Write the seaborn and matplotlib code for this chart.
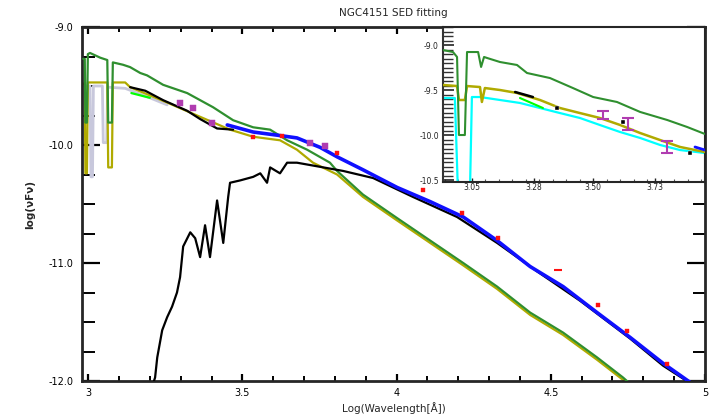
import matplotlib
matplotlib.use("Agg")
import matplotlib.pyplot as plt
import seaborn as sns
from matplotlib.ticker import MultipleLocator, FormatStrFormatter

# ---------------- main panel data (log wavelength, log flux) ----------------
green_x = [2.984, 2.989, 2.991, 2.996, 2.999, 3.006, 3.039, 3.062, 3.065, 3.077, 3.080,
           3.113, 3.136, 3.169, 3.191, 3.243, 3.321, 3.405, 3.470, 3.535, 3.590, 3.645,
           3.710, 3.784, 3.807, 3.891, 4.002, 4.109, 4.216, 4.326, 4.433, 4.540, 4.650,
           4.734, 4.760]
green_y = [-9.27, -9.27, -9.81, -9.81, -9.23, -9.22, -9.26, -9.28, -9.81, -9.81, -9.30,
           -9.32, -9.34, -9.39, -9.41, -9.49, -9.56, -9.68, -9.79, -9.85, -9.87, -9.96,
           -10.04, -10.15, -10.22, -10.42, -10.62, -10.81, -11.00, -11.20, -11.42, -11.59,
           -11.80, -11.97, -12.03]

olive_x = [2.984, 2.989, 2.991, 2.996, 2.999, 3.016, 3.062, 3.065, 3.077, 3.080, 3.120,
           3.136, 3.256, 3.353, 3.460, 3.535, 3.622, 3.677, 3.729, 3.807, 3.891, 4.002,
           4.109, 4.216, 4.326, 4.433, 4.540, 4.650, 4.734, 4.760]
olive_y = [-9.48, -9.48, -10.24, -10.24, -9.47, -9.47, -9.47, -10.19, -10.19, -9.47, -9.47,
           -9.51, -9.64, -9.75, -9.87, -9.93, -9.96, -10.04, -10.15, -10.25, -10.44, -10.64,
           -10.83, -11.02, -11.22, -11.44, -11.61, -11.82, -11.99, -12.05]

lav_x = [2.984, 3.006, 3.009, 3.014, 3.017, 3.046, 3.049, 3.060, 3.063, 3.120, 3.200, 3.256]
lav_y = [-9.50, -9.50, -10.27, -10.27, -9.50, -9.50, -9.98, -9.98, -9.51, -9.52, -9.60, -9.66]

blue_x = [3.451, 3.535, 3.622, 3.677, 3.752, 3.807, 3.891, 4.002, 4.109, 4.216, 4.326,
          4.433, 4.540, 4.650, 4.757, 4.864, 4.951]
blue_y = [-9.83, -9.89, -9.92, -9.94, -10.02, -10.10, -10.21, -10.36, -10.48, -10.61,
          -10.81, -11.03, -11.20, -11.42, -11.63, -11.85, -12.01]

stellar_x = [3.211, 3.217, 3.224, 3.240, 3.256, 3.272, 3.288, 3.298, 3.308, 3.331, 3.347,
             3.363, 3.379, 3.395, 3.418, 3.438, 3.454, 3.460, 3.493, 3.535, 3.558, 3.580,
             3.590, 3.622, 3.645, 3.677, 3.720, 3.827, 3.924, 4.053, 4.196, 4.326, 4.455,
             4.595, 4.757, 4.864, 4.935]
stellar_y = [-12.02, -11.97, -11.80, -11.57, -11.46, -11.37, -11.25, -11.12, -10.86, -10.74,
             -10.79, -10.95, -10.68, -10.95, -10.47, -10.83, -10.44, -10.32, -10.30, -10.27,
             -10.24, -10.32, -10.19, -10.24, -10.15, -10.15, -10.17, -10.22, -10.28, -10.44,
             -10.61, -10.83, -11.07, -11.32, -11.64, -11.87, -11.99]

uvspec_x = [3.136, 3.185, 3.243, 3.321, 3.363, 3.418, 3.470]
uvspec_y = [-9.51, -9.54, -9.62, -9.71, -9.78, -9.86, -9.87]

bgreen_x = [3.140, 3.170, 3.200]
bgreen_y = [-9.56, -9.58, -9.60]

red_x = [3.535, 3.629, 3.807, 4.086, 4.212, 4.329, 4.653, 4.747, 4.877]
red_y = [-9.93, -9.92, -10.07, -10.38, -10.58, -10.79, -11.36, -11.58, -11.86]
red_lim_x = [4.523]
red_lim_y = [-11.06]

mag_x = [3.298, 3.340, 3.402, 3.720, 3.768]
mag_y = [-9.64, -9.69, -9.81, -9.98, -10.01]

# ---------------- inset data ----------------
in_green_x = [2.944, 2.981, 2.996, 3.003, 3.025, 3.033, 3.074, 3.085, 3.096, 3.107, 3.155,
              3.218, 3.255, 3.340, 3.425, 3.500, 3.588, 3.674, 3.774, 3.848, 3.914]
in_green_y = [-9.056, -9.078, -9.133, -10.00, -10.00, -9.078, -9.078, -9.244, -9.133, -9.144,
              -9.189, -9.222, -9.311, -9.367, -9.478, -9.578, -9.633, -9.744, -9.833, -9.911,
              -9.989]
in_olive_x = [2.944, 2.996, 3.003, 3.025, 3.033, 3.081, 3.088, 3.099, 3.155, 3.218, 3.303,
              3.377, 3.451, 3.525, 3.600, 3.674, 3.748, 3.822, 3.914]
in_olive_y = [-9.444, -9.456, -9.611, -9.611, -9.456, -9.467, -9.633, -9.478, -9.500, -9.533,
              -9.611, -9.700, -9.756, -9.811, -9.889, -9.978, -10.056, -10.133, -10.189]
in_cyan_x = [2.944, 2.988, 2.999, 3.044, 3.051, 3.081, 3.155, 3.229, 3.303, 3.377, 3.451,
             3.525, 3.600, 3.674, 3.748, 3.822, 3.914]
in_cyan_y = [-9.589, -9.589, -10.60, -10.60, -9.578, -9.578, -9.611, -9.644, -9.700, -9.756,
             -9.811, -9.889, -9.967, -10.033, -10.111, -10.167, -10.200]
in_bgreen_x = [3.229, 3.314]
in_bgreen_y = [-9.589, -9.700]
in_black_x = [3.211, 3.277]
in_black_y = [-9.522, -9.578]
in_blackpt_x = [3.366, 3.611, 3.859]
in_blackpt_y = [-9.700, -9.856, -10.200]
in_blue_x = [3.877, 3.914]
in_blue_y = [-10.133, -10.167]
in_mag_x = [3.537, 3.629, 3.774]
in_mag_y = [-9.778, -9.878, -10.133]
in_mag_err = [0.045, 0.067, 0.072]

x_ticks = [3.0, 3.5, 4.0, 4.5, 5.0]
x_labels = ["3", "3.5", "4", "4.5", "5"]
y_ticks = [-12, -11, -10, -9]
in_x_ticks = [3.05, 3.28, 3.5, 3.73]
in_y_ticks = [-10.5, -10.0, -9.5, -9.0]

title = "NGC4151 SED fitting"
xlabel = "Log(Wavelength[Å])"
ylabel = "log(νFν)"

# ---------------- style ----------------
sns.set_theme(style="ticks")
plt.rcParams['font.family'] = ['DejaVu Sans']
plt.rcParams['axes.linewidth'] = 2.0

GREEN = "#2f8f2f"
OLIVE = "#b0aa00"
LAV = "#c8c8dc"
BLUE = "#1010ff"
RED = "#ff1010"
MAG = "#b03cb0"
CYAN = "#00ffff"
BGREEN = "#00ff00"

fig = plt.figure(figsize=(7.11, 4.15), dpi=100)
ax = fig.add_axes([82 / 711, 34 / 415, 623 / 711, 354 / 415])


def line(a, xs, ys, color, lw, z=2):
    sns.lineplot(x=xs, y=ys, sort=False, estimator=None, color=color, lw=lw, ax=a,
                 zorder=z, legend=False)


line(ax, lav_x, lav_y, LAV, 2.0, 1)
line(ax, olive_x, olive_y, OLIVE, 1.6, 2)
line(ax, green_x, green_y, GREEN, 1.6, 3)
line(ax, stellar_x, stellar_y, "black", 1.6, 4)
line(ax, uvspec_x, uvspec_y, "black", 1.6, 4)
line(ax, bgreen_x, bgreen_y, BGREEN, 1.6, 5)
line(ax, blue_x, blue_y, BLUE, 2.6, 5)
sns.scatterplot(x=mag_x, y=mag_y, marker="s", s=16, color=MAG, edgecolor=MAG, ax=ax, zorder=6)
sns.scatterplot(x=red_x, y=red_y, marker="s", s=12, color=RED, edgecolor=RED, ax=ax, zorder=7)
sns.scatterplot(x=red_lim_x, y=red_lim_y, marker="_", s=30, color=RED, linewidth=1.5, ax=ax, zorder=7)

ax.set_xlim(2.98, 5.0)
ax.set_ylim(-12.0, -9.0)
ax.set_xticks(x_ticks)
ax.set_xticklabels(x_labels)
ax.set_yticks(y_ticks)
ax.yaxis.set_major_formatter(FormatStrFormatter("%.1f"))
ax.xaxis.set_minor_locator(MultipleLocator(0.1))
ax.yaxis.set_minor_locator(MultipleLocator(0.25))
ax.tick_params(axis="both", which="both", direction="in", top=True, right=True,
               labelsize=7, colors="black")
ax.tick_params(axis="y", which="major", length=13, width=1.6, pad=6)
ax.tick_params(axis="y", which="minor", length=9, width=1.4)
ax.tick_params(axis="x", which="major", length=5, width=1.6, pad=5)
ax.tick_params(axis="x", which="minor", length=3.5, width=1.4)
ax.set_xlabel(xlabel, fontsize=7.5, labelpad=3)
ax.set_ylabel(ylabel, fontsize=7.5, fontweight="bold", labelpad=10)
ax.set_title(title, fontsize=7.5, pad=8)

# ---------------- inset ----------------
ins = fig.add_axes([443 / 711, 233 / 415, 262 / 711, 155 / 415])
ins.set_facecolor("white")
line(ins, in_cyan_x, in_cyan_y, CYAN, 1.6, 2)
line(ins, in_olive_x, in_olive_y, OLIVE, 1.8, 3)
line(ins, in_green_x, in_green_y, GREEN, 1.5, 4)
line(ins, in_bgreen_x, in_bgreen_y, BGREEN, 1.5, 5)
line(ins, in_black_x, in_black_y, "black", 1.8, 5)
line(ins, in_blue_x, in_blue_y, BLUE, 2.0, 5)
sns.scatterplot(x=in_blackpt_x, y=in_blackpt_y, marker="s", s=12, color="black", ax=ins, zorder=6)
ins.errorbar(in_mag_x, in_mag_y, yerr=in_mag_err, fmt="none", ecolor=MAG, elinewidth=1.5,
             capsize=4, capthick=1.5, zorder=7)
ins.set_xlim(2.944, 3.914)
ins.set_ylim(-10.522, -8.8)
ins.set_xticks(in_x_ticks)
ins.xaxis.set_major_formatter(FormatStrFormatter("%.2f"))
ins.set_yticks(in_y_ticks)
ins.yaxis.set_major_formatter(FormatStrFormatter("%.1f"))
ins.yaxis.set_minor_locator(MultipleLocator(0.05))
ins.xaxis.set_minor_locator(MultipleLocator(0.05))
ins.tick_params(axis="both", which="both", direction="in", labelsize=5.5, colors="#222222")
ins.tick_params(axis="y", which="major", length=8, width=1.2, pad=3)
ins.tick_params(axis="y", which="minor", length=7, width=1.0, color="#333333")
ins.tick_params(axis="x", which="major", length=3, width=1.0, pad=1)
ins.tick_params(axis="x", which="minor", length=2, width=0.8, color="#555555")
for s in ins.spines.values():
    s.set_linewidth(1.5)
ins.spines["left"].set_color("#333333")

fig.savefig("out.png", dpi=100)
